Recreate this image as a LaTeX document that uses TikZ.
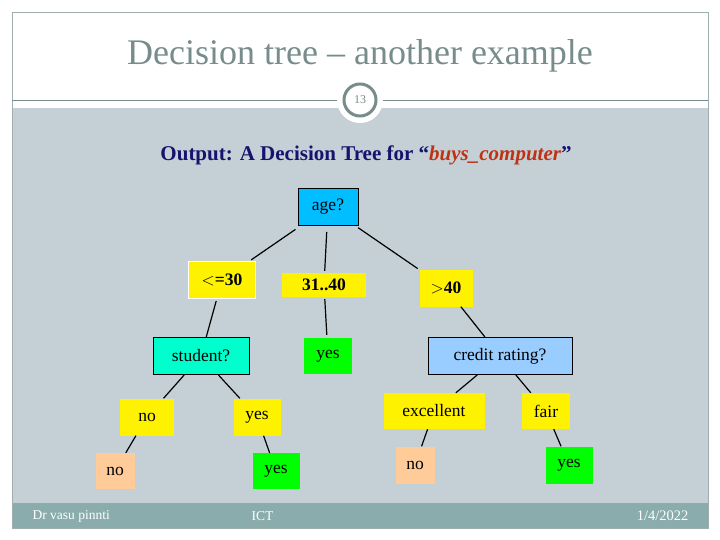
\documentclass[tikz,border=0pt]{standalone}
\usepackage{fontspec}
\setmainfont{Liberation Serif}
\begin{document}
\begin{tikzpicture}[x=1pt,y=-1pt,
  box/.style={rectangle,inner sep=0pt,font=\fontsize{17.5}{18}\selectfont},
  yel/.style={box,fill=yellow},
  grn/.style={box,fill=green},
  pch/.style={box,fill={rgb,255:red,255;green,204;blue,153}},
  edge/.style={line width=1.2pt,shorten <=2pt,shorten >=2pt}]
\definecolor{bg}{RGB}{197,208,214}
\definecolor{foot}{RGB}{138,172,172}
\definecolor{tgray}{RGB}{120,140,140}
\useasboundingbox (0,0) rectangle (720,540);
\fill[white] (0,0) rectangle (720,540);
\fill[bg] (12,108) rectangle (708,503);
\fill[foot] (12,503) rectangle (708,528);
\draw[tgray!70,line width=0.6pt] (12,12) rectangle (708,528);
\draw[tgray,line width=0.8pt] (12,100) -- (708,100);
\node[font=\fontsize{36}{38}\selectfont,text=tgray] (title) at (360,56) {Decision tree -- another example};
\fill[white] (360,100) circle (23);
\draw[tgray,line width=3pt] (360,100) circle (16);
\node[font=\fontsize{12}{12}\selectfont,text=tgray] (num) at (360,100) {13};
\node[font=\bfseries\fontsize{21}{22}\selectfont] (out) at (366,155) {\textcolor[RGB]{20,20,110}{Output: A Decision Tree for ``}\textcolor[RGB]{190,50,20}{\itshape buys\_computer}\textcolor[RGB]{20,20,110}{''}};
% nodes
\node[box,fill={rgb,255:red,0;green,190;blue,255},draw=black,line width=1pt,minimum width=60,minimum height=37] (age) at (328,207) {age?};
\node[yel,draw=white,line width=1pt,minimum width=67,minimum height=37,font=\bfseries\fontsize{17.5}{18}\selectfont] (le) at (222,280) {$<$=30};
\node[yel,minimum width=84,minimum height=24,font=\bfseries\fontsize{17.5}{18}\selectfont] (mid) at (324,285) {31..40};
\node[yel,minimum width=53,minimum height=37,font=\bfseries\fontsize{17.5}{18}\selectfont] (gt) at (446,288) {$>$40};
\node[box,fill={rgb,255:red,0;green,255;blue,204},draw=black,line width=1pt,minimum width=96,minimum height=37] (stu) at (201,356) {student?};
\node[grn,minimum width=48,minimum height=36] (y1) at (328,356) {yes};
\node[box,fill={rgb,255:red,153;green,204;blue,255},draw=black,line width=1pt,minimum width=144,minimum height=37] (cr) at (500,356) {credit rating?};
\node[yel,minimum width=54,minimum height=37] (no1) at (147,417) {no};
\node[yel,minimum width=47,minimum height=37] (ys1) at (257,417) {yes};
\node[yel,minimum width=101,minimum height=36] (ex) at (434,411) {excellent};
\node[yel,minimum width=48,minimum height=36] (fair) at (546,411) {fair};
\node[pch,minimum width=39,minimum height=36] (no2) at (115,471) {no};
\node[grn,minimum width=47,minimum height=36] (ys2) at (276,471) {yes};
\node[pch,minimum width=39,minimum height=37] (no3) at (415,465) {no};
\node[grn,minimum width=47,minimum height=37] (ys3) at (569,465) {yes};
% edges
\draw[edge,shorten <=6pt] (age) -- (le);
\draw[edge,shorten <=6pt] (age) -- (mid);
\draw[edge,shorten <=3pt] (age) -- (gt);
\draw[edge,shorten >=0pt] (le) -- (stu);
\draw[edge,shorten >=3pt] (mid) -- (y1);
\draw[edge,shorten <=0pt,shorten >=0pt] (gt) -- (cr);
\draw[edge,shorten <=0pt,shorten >=0pt] (stu) -- (no1);
\draw[edge,shorten <=0pt,shorten >=0pt] (stu) -- (ys1);
\draw[edge,shorten <=0pt,shorten >=0pt] (no1) -- (no2);
\draw[edge,shorten <=0pt,shorten >=0pt] (ys1) -- (ys2);
\draw[edge,shorten <=0pt,shorten >=0pt] (cr) -- (ex);
\draw[edge,shorten <=0pt,shorten >=0pt] (cr) -- (fair);
\draw[edge,shorten <=0pt,shorten >=0pt] (ex) -- (no3);
\draw[edge,shorten <=0pt,shorten >=0pt] (fair) -- (ys3);
% footer
\node[text=white,font=\fontsize{13.5}{14}\selectfont,anchor=west] (f1) at (29,516) {Dr vasu pinnti};
\node[text=white,font=\fontsize{13.5}{14}\selectfont,anchor=west] (f2) at (248,516) {ICT};
\node[text=white,font=\fontsize{14.5}{15}\selectfont,anchor=east] (f3) at (692,516) {1/4/2022};
\end{tikzpicture}
\end{document}
